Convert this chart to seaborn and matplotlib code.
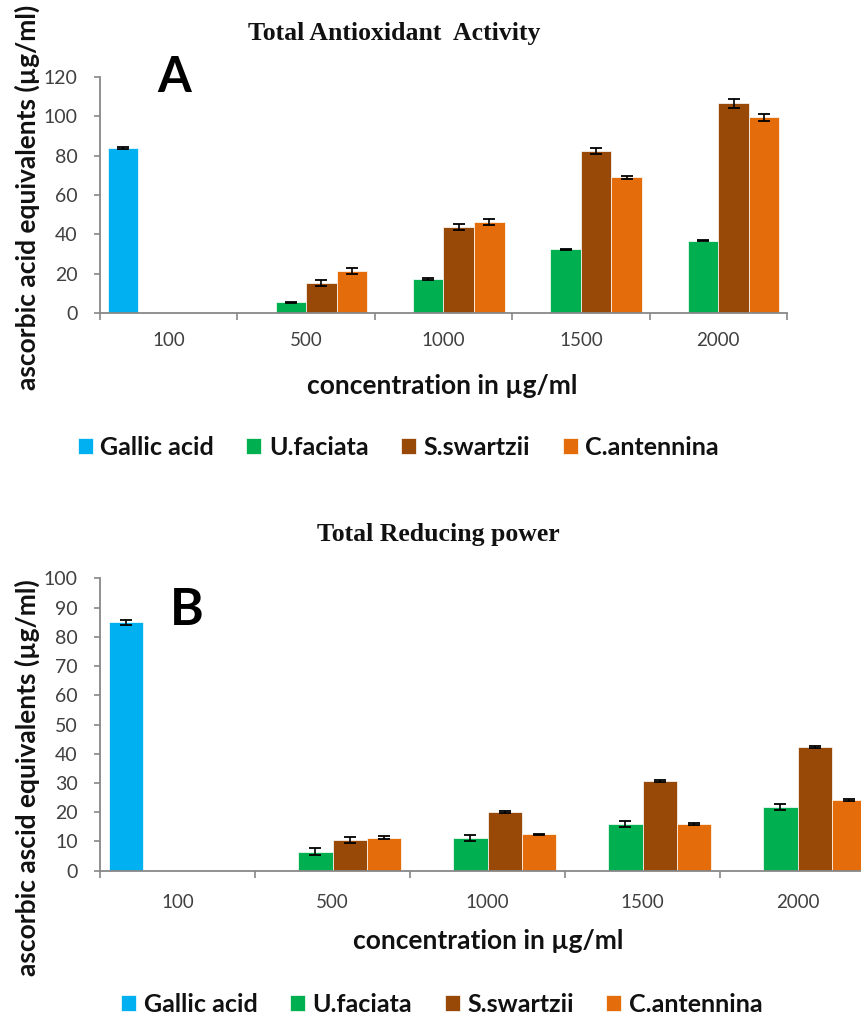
import numpy as np
import pandas as pd
import matplotlib
matplotlib.use("Agg")
import matplotlib.pyplot as plt
from matplotlib.ticker import FixedLocator, MultipleLocator
import seaborn as sns

# ---------------- data ----------------
concentrations = ["100", "500", "1000", "1500", "2000"]
samples = ["Gallic acid", "U.faciata", "S.swartzii", "C.antennina"]
colors = ["#00B0F0", "#00B050", "#984807", "#E46C0A"]

# Panel A: Total Antioxidant Activity
gallic_a = [84.0]
gallic_a_err = [0.6]
ufaciata_a = [5.5, 17.3, 32.4, 36.8]
ufaciata_a_err = [0.3, 0.4, 0.3, 0.3]
sswartzii_a = [15.3, 43.9, 82.2, 106.6]
sswartzii_a_err = [1.5, 1.5, 1.5, 2.2]
cantennina_a = [21.4, 46.4, 69.0, 99.5]
cantennina_a_err = [1.5, 1.5, 0.8, 1.7]

# Panel B: Total Reducing power
gallic_b = [84.9]
gallic_b_err = [1.0]
ufaciata_b = [6.5, 11.3, 16.0, 21.8]
ufaciata_b_err = [1.2, 1.0, 1.0, 1.0]
sswartzii_b = [10.6, 20.0, 30.7, 42.2]
sswartzii_b_err = [1.0, 0.3, 0.3, 0.3]
cantennina_b = [11.3, 12.4, 16.0, 24.2]
cantennina_b_err = [0.4, 0.3, 0.2, 0.3]


def build_df(gallic, gallic_err, uf, uf_err, ss, ss_err, ca, ca_err):
    rows = []
    for v, e in zip(gallic, gallic_err):
        rows.append(dict(conc=concentrations[0], sample=samples[0], value=v, err=e))
    for name, vals, errs in [(samples[1], uf, uf_err), (samples[2], ss, ss_err), (samples[3], ca, ca_err)]:
        for c, v, e in zip(concentrations[1:], vals, errs):
            rows.append(dict(conc=c, sample=name, value=v, err=e))
    return pd.DataFrame(rows)


df_a = build_df(gallic_a, gallic_a_err, ufaciata_a, ufaciata_a_err,
                sswartzii_a, sswartzii_a_err, cantennina_a, cantennina_a_err)
df_b = build_df(gallic_b, gallic_b_err, ufaciata_b, ufaciata_b_err,
                sswartzii_b, sswartzii_b_err, cantennina_b, cantennina_b_err)

# ---------------- style ----------------
sns.set_style("white")
plt.rcParams["font.family"] = ["Lato", "DejaVu Sans"]

W, H = 862, 1017
fig = plt.figure(figsize=(W / 100, H / 100), dpi=100)

AXIS_GRAY = "#888888"
TICK_TXT = "#404040"


def px_axes(left, top, right, bottom):
    return [left / W, 1 - bottom / H, (right - left) / W, (bottom - top) / H]


ax_a = fig.add_axes(px_axes(100, 77, 787, 313))
ax_b = fig.add_axes(px_axes(100, 578.3, 875, 870.7))

panels = [
    dict(ax=ax_a, df=df_a, ymax=120, ystep=20, title="Total Antioxidant  Activity",
         letter="A", ylabel="ascorbic acid equivalents (µg/ml)",
         title_xy=(0.428, 1.186), letter_xy=(0.108, 0.996), letter_size=35,
         ylabel_xy=(-0.106, 0.49), xlabel_xy=(0.498, -0.31), legend_xy=(0.434, -0.568),
         xpad=14.0),
    dict(ax=ax_b, df=df_b, ymax=100, ystep=10, title="Total Reducing power",
         letter="B", ylabel="ascorbic ascid equivalents (µg/ml)",
         title_xy=(0.436, 1.149), letter_xy=(0.112, 0.889), letter_size=37,
         ylabel_xy=(-0.094, 0.318), xlabel_xy=(0.5006, -0.239), legend_xy=(0.441, -0.458),
         xpad=17.0),
]

for p in panels:
    ax = p["ax"]
    d = p["df"]
    sns.barplot(data=d, x="conc", y="value", hue="sample", order=concentrations,
                hue_order=samples, palette=colors, width=0.89, errorbar=None,
                edgecolor="white", linewidth=0.5, saturation=1, ax=ax)

    # error bars at the centres of the drawn bars
    for cont, name in zip(ax.containers, samples):
        sub = d[d["sample"] == name].set_index("conc")
        xs, ys, es = [], [], []
        for bar in cont:
            xc = bar.get_x() + bar.get_width() / 2
            ci = int(round(xc))
            c = concentrations[ci]
            if c in sub.index:
                xs.append(xc)
                ys.append(bar.get_height())
                es.append(sub.loc[c, "err"])
        if xs:
            ax.errorbar(xs, ys, yerr=es, fmt="none", ecolor="black",
                        elinewidth=1.2, capsize=4.3, capthick=1.3, zorder=5)

    ax.set_xlim(-0.5, 4.5)
    ax.set_ylim(0, p["ymax"])
    ax.yaxis.set_major_locator(MultipleLocator(p["ystep"]))
    ax.xaxis.set_minor_locator(FixedLocator(np.arange(-0.5, 5.0, 1.0)))

    for s in ["top", "right"]:
        ax.spines[s].set_visible(False)
    for s in ["left", "bottom"]:
        ax.spines[s].set_color(AXIS_GRAY)
        ax.spines[s].set_linewidth(1.3)

    ax.tick_params(axis="y", which="major", direction="out", length=4.5, width=1.2,
                   color=AXIS_GRAY, labelsize=14, labelcolor=TICK_TXT, pad=11.5, left=True)
    ax.tick_params(axis="x", which="major", length=0, labelsize=13.5,
                   labelcolor=TICK_TXT, pad=p["xpad"], bottom=True)
    ax.tick_params(axis="x", which="minor", direction="out", length=5, width=1.2,
                   color=AXIS_GRAY, bottom=True)

    ax.set_xlabel("concentration in µg/ml", fontsize=19, fontweight="bold", color="#111111")
    ax.xaxis.set_label_coords(*p["xlabel_xy"])
    ax.xaxis.label.set_va("center")
    ax.set_ylabel(p["ylabel"], fontsize=19, fontweight="bold", color="#111111")
    ax.yaxis.set_label_coords(*p["ylabel_xy"])
    ax.yaxis.label.set_va("center")

    ax.text(*p["title_xy"], p["title"], transform=ax.transAxes, ha="center", va="center",
            fontsize=18.5, fontweight="bold", family="Liberation Serif", color="#111111")
    ax.text(*p["letter_xy"], p["letter"], transform=ax.transAxes, ha="center", va="center",
            fontsize=p["letter_size"], fontweight="bold", color="black")

    handles, labels = ax.get_legend_handles_labels()
    if ax.get_legend() is not None:
        ax.get_legend().remove()
    leg = ax.legend(handles, labels, loc="center", bbox_to_anchor=p["legend_xy"],
                    ncol=4, frameon=False, handlelength=0.6, handleheight=0.6,
                    handletextpad=0.3, columnspacing=1.3,
                    prop=dict(family="Lato", weight="bold", size=18))
    for t in leg.get_texts():
        t.set_color("#111111")

fig.savefig("out.png", dpi=100)
